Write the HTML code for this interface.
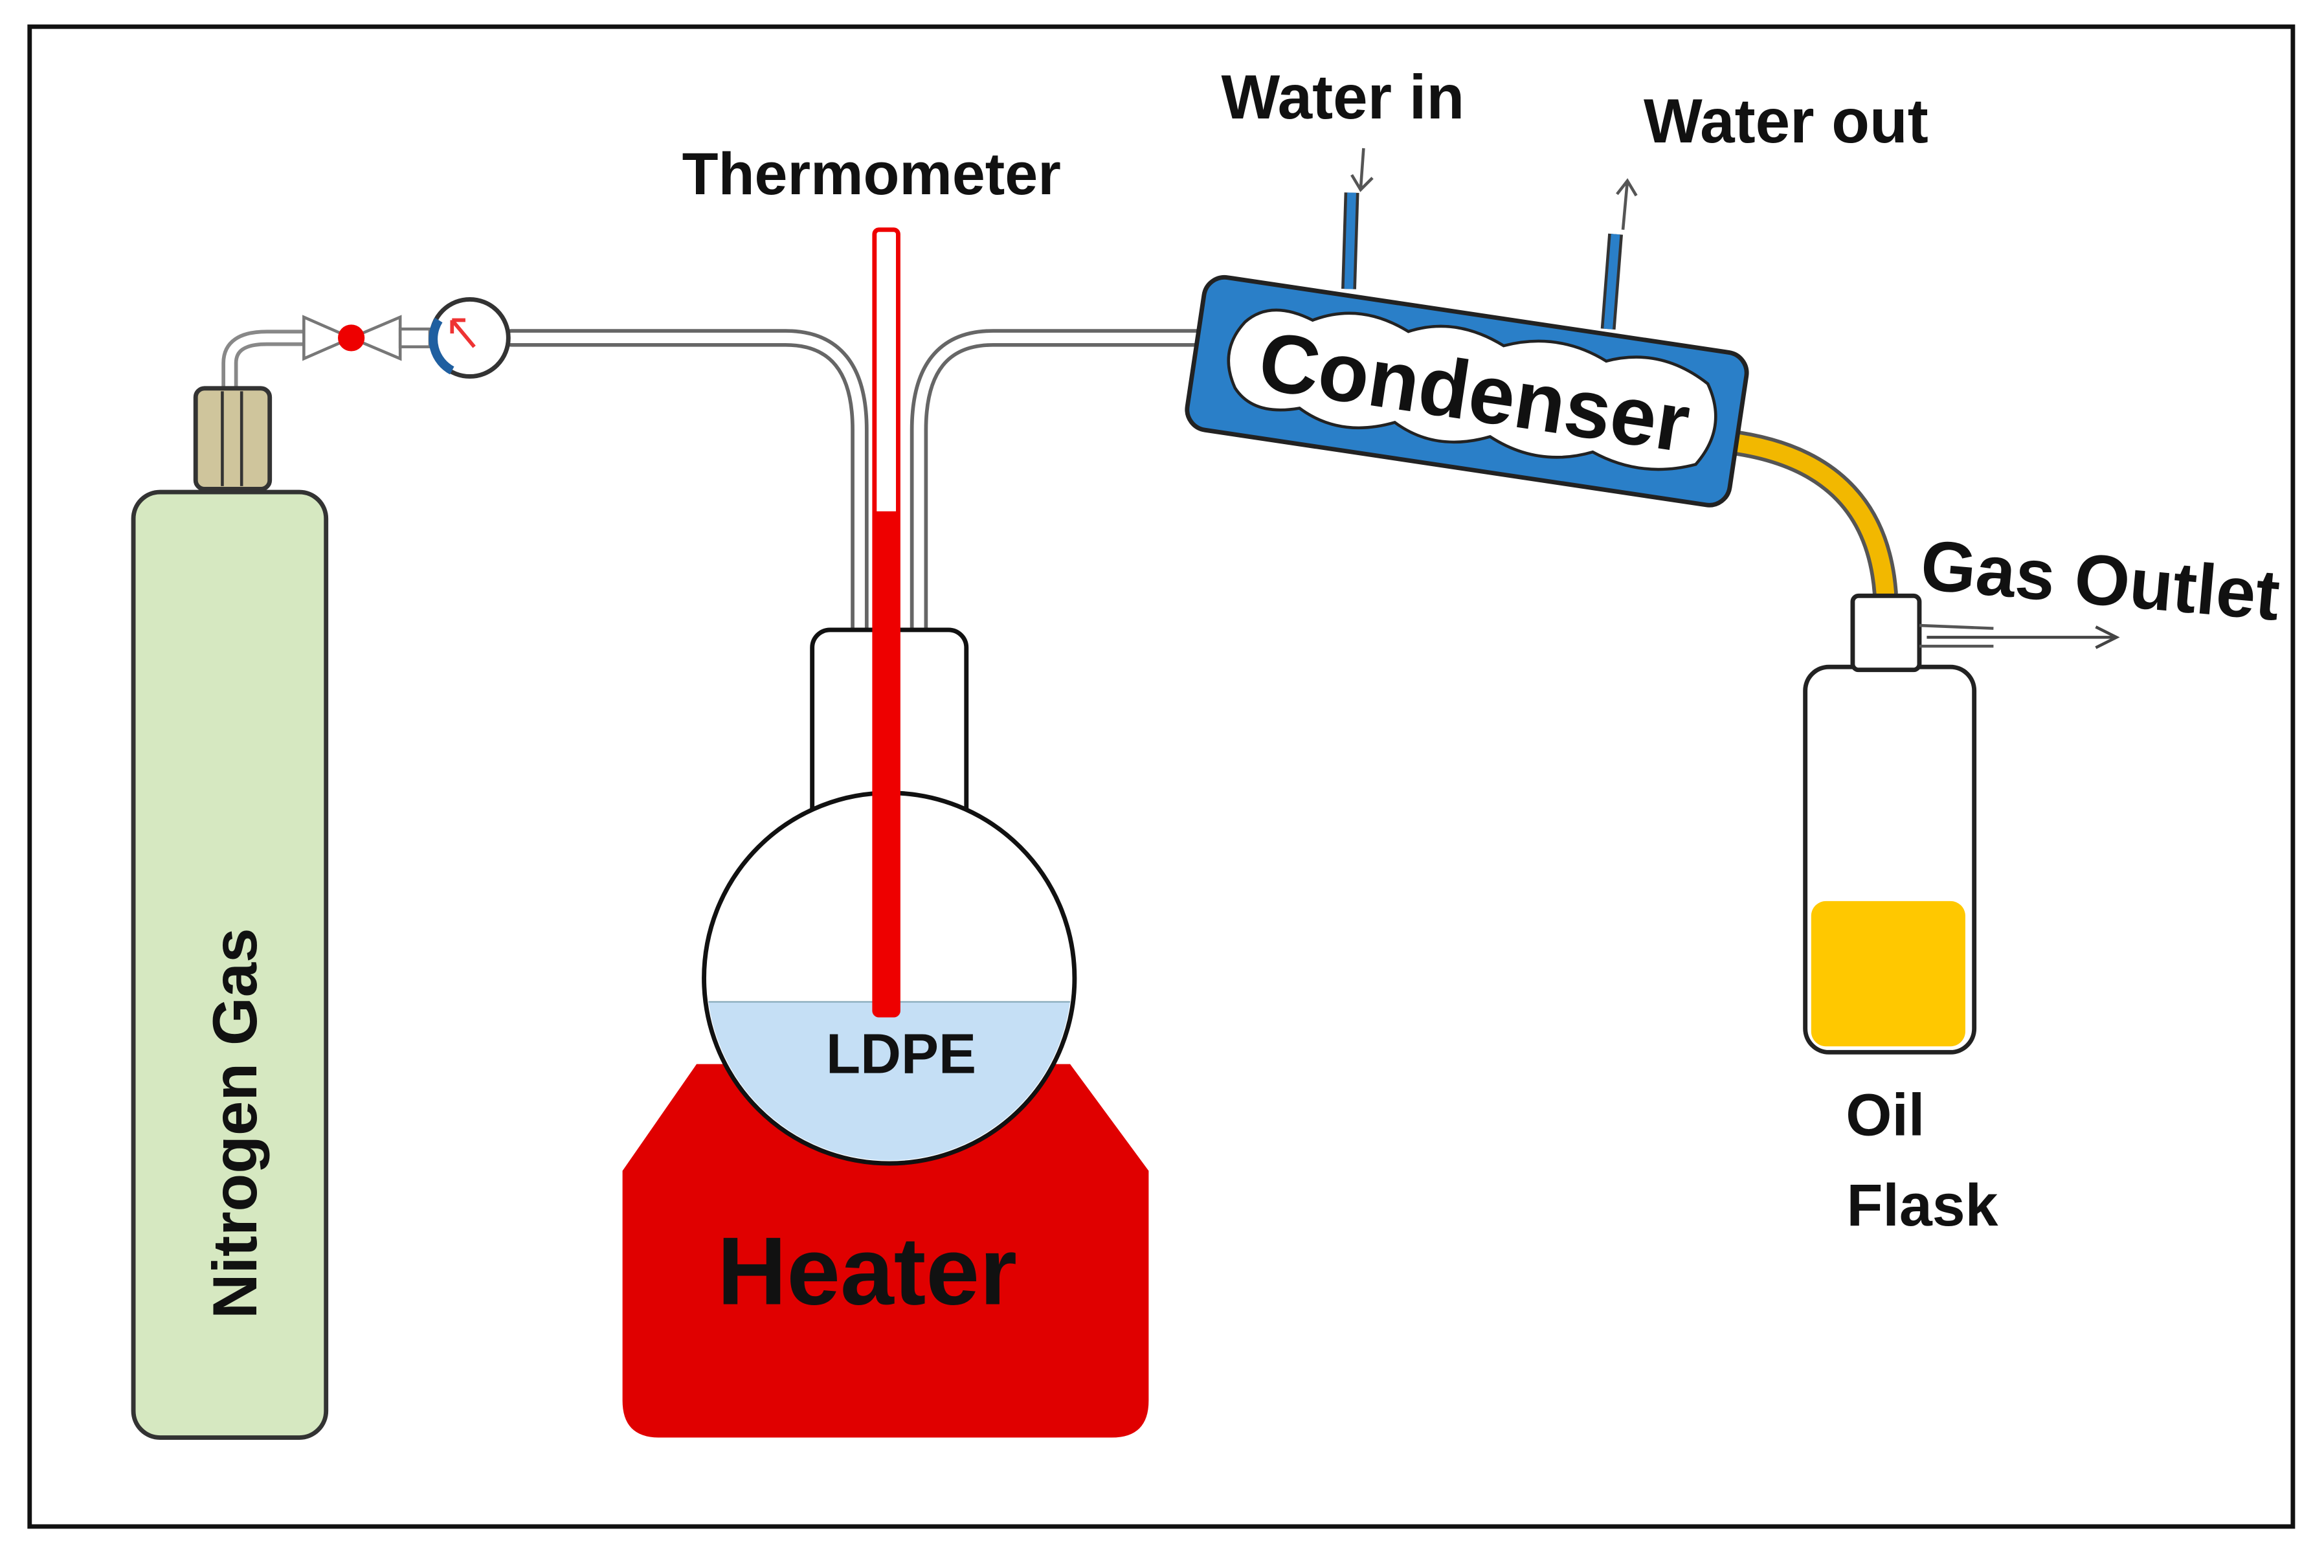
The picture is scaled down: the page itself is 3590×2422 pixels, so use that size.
<!DOCTYPE html>
<html><head><meta charset="utf-8"><style>
html,body{margin:0;padding:0;background:#fff;}
svg{display:block;}
text{font-family:"Liberation Sans",sans-serif;font-weight:bold;fill:#111;}
</style></head><body>
<svg width="3590" height="2422" viewBox="0 0 1568 1058" preserveAspectRatio="none" xmlns="http://www.w3.org/2000/svg">
<rect x="0" y="0" width="1568" height="1058" fill="#fff"/>
<rect x="20" y="18" width="1527" height="1012" fill="none" stroke="#111" stroke-width="3"/>

<g fill="none" stroke-linecap="round">
<path d="M155 262 L155 245 Q155 228 180 228 L205 228" stroke="#888" stroke-width="11"/>
<path d="M155 262 L155 245 Q155 228 180 228 L205 228" stroke="#fff" stroke-width="6"/>
<path d="M345 228 L530 228 Q580 228 580 290 L580 425" stroke="#666" stroke-width="12"/>
<path d="M345 228 L530 228 Q580 228 580 290 L580 425" stroke="#fff" stroke-width="7"/>
<path d="M620 425 L620 290 Q620 228 670 228 L815 228" stroke="#666" stroke-width="12"/>
<path d="M620 425 L620 290 Q620 228 670 228 L815 228" stroke="#fff" stroke-width="7"/>
<path d="M1165 298 Q1265 310 1272 400" stroke="#555" stroke-width="17"/>
<path d="M1165 298 Q1265 310 1272 400" stroke="#f2b800" stroke-width="12"/>
</g>

<rect x="132" y="262" width="50" height="68" rx="6" fill="#cfc59c" stroke="#333" stroke-width="3"/>
<line x1="150" y1="264" x2="150" y2="328" stroke="#333" stroke-width="2"/>
<line x1="163" y1="264" x2="163" y2="328" stroke="#333" stroke-width="2"/>
<rect x="90" y="332" width="130" height="638" rx="18" fill="#d6e8c1" stroke="#333" stroke-width="3"/>
<text x="0" y="0" font-size="42" text-anchor="middle" transform="translate(173,758) rotate(-90)">Nitrogen Gas</text>

<polygon points="205,214 237,228 205,242" fill="#fff" stroke="#777" stroke-width="2"/>
<polygon points="270,214 237,228 270,242" fill="#fff" stroke="#777" stroke-width="2"/>
<circle cx="237" cy="228" r="9" fill="#e00" />
<rect x="270" y="222" width="20" height="12" fill="#fff" stroke="#777" stroke-width="2"/>
<circle cx="317" cy="228" r="26" fill="#fff" stroke="#333" stroke-width="3"/>
<path d="M296 216 A24 24 0 0 0 305 250" fill="none" stroke="#1f5fa0" stroke-width="6"/>
<path d="M305 216 L320 234 M305 216 L314 216 M305 216 L305 225" stroke="#e33" stroke-width="2.5" fill="none"/>

<rect x="548" y="425" width="104" height="150" rx="12" fill="#fff" stroke="#111" stroke-width="3"/>
<path d="M470 718 L420 790 L420 945 Q420 970 445 970 L750 970 Q775 970 775 945 L775 790 L722 718 Z" fill="#e00000"/>
<circle cx="600" cy="660" r="125" fill="#fff" stroke="#111" stroke-width="3"/>
<clipPath id="bulb"><circle cx="600" cy="660" r="123"/></clipPath>
<rect x="470" y="676" width="260" height="120" fill="#c5dff5" clip-path="url(#bulb)"/>
<line x1="478" y1="676" x2="722" y2="676" stroke="#8ab" stroke-width="1"/>
<text x="585" y="880" font-size="65" text-anchor="middle">Heater</text>

<rect x="590" y="155" width="16" height="530" rx="3" fill="#fff" stroke="#e00" stroke-width="3"/>
<rect x="590" y="345" width="16" height="340" fill="#e00"/>
<text x="608" y="724" font-size="38" text-anchor="middle">LDPE</text>
<text x="588" y="131" font-size="40" text-anchor="middle">Thermometer</text>

<line x1="912" y1="130" x2="910" y2="195" stroke="#333" stroke-width="10"/>
<line x1="912" y1="130" x2="910" y2="195" stroke="#2a7fc8" stroke-width="6"/>
<line x1="1090" y1="158" x2="1085" y2="222" stroke="#333" stroke-width="10"/>
<line x1="1090" y1="158" x2="1085" y2="222" stroke="#2a7fc8" stroke-width="6"/>
<path d="M920 100 L918 128 M912 118 L918 128 L926 120" stroke="#555" stroke-width="2" fill="none"/>
<path d="M1095 155 L1098 122 M1091 131 L1098 122 L1104 132" stroke="#555" stroke-width="2" fill="none"/>
<g transform="rotate(8.5 990 262)">
<rect x="805" y="212" width="370" height="104" rx="14" fill="#2a7fc8" stroke="#222" stroke-width="3"/>
<path d="M835 240 Q850 222 880 232 Q910 215 945 230 Q975 215 1010 230 Q1045 215 1080 230 Q1115 215 1150 235 Q1168 262 1150 290 Q1115 305 1080 292 Q1045 308 1010 292 Q975 308 945 292 Q910 308 880 292 Q850 302 835 285 Q820 262 835 240 Z" fill="#fff" stroke="#222" stroke-width="2"/>
<text x="995" y="283" font-size="56" text-anchor="middle">Condenser</text>
</g>
<text x="906" y="80" font-size="42" text-anchor="middle">Water in</text>
<text x="1205" y="96" font-size="42" text-anchor="middle">Water out</text>

<rect x="1218" y="450" width="114" height="260" rx="16" fill="#fff" stroke="#222" stroke-width="3"/>
<rect x="1222" y="608" width="104" height="98" rx="10" fill="#ffc800"/>
<rect x="1250" y="402" width="45" height="50" rx="4" fill="#fff" stroke="#222" stroke-width="3"/>
<path d="M1295 422 L1345 424 M1295 436 L1345 436" stroke="#555" stroke-width="2"/>
<path d="M1300 430 L1428 430 M1414 423 L1428 430 L1414 437" stroke="#444" stroke-width="2" fill="none"/>
<text x="1417" y="408" font-size="48" text-anchor="middle" transform="rotate(5 1417 392)">Gas Outlet</text>
<text x="1272" y="766" font-size="40" text-anchor="middle">Oil</text>
<text x="1297" y="827" font-size="40" text-anchor="middle">Flask</text>
</svg>
</body></html>
